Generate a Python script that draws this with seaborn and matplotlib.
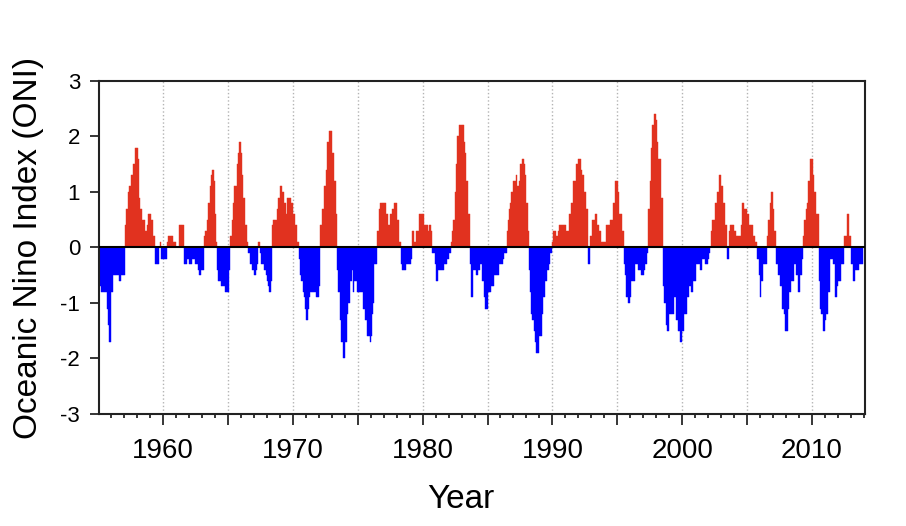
import numpy as np
import pandas as pd
import matplotlib
matplotlib.use("Agg")
import matplotlib.pyplot as plt
import seaborn as sns
from matplotlib.ticker import MultipleLocator, FuncFormatter

# Monthly Oceanic Nino Index (first value = Jan 1955)
start_year = 1955

oni_1950s = [
    -0.7, -0.7, -0.7, -0.8, -0.8, -0.8, -0.8, -0.8, -1.1, -1.4, -1.7, -1.7,  # 1955
    -0.8, -0.8, -0.5, -0.5, -0.5, -0.5, -0.5, -0.6, -0.6, -0.5, -0.5, -0.5,  # 1956
    -0.5, 0.4, 0.7, 0.7, 1.0, 1.1, 1.3, 1.3, 1.5, 1.5, 1.8, 1.8,  # 1957
    1.8, 1.6, 0.9, 0.7, 0.7, 0.5, 0.5, 0.3, 0.3, 0.4, 0.6, 0.6,  # 1958
    0.6, 0.5, 0.5, 0.2, 0.2, -0.3, -0.3, -0.3, 0.0, 0.1, -0.2, -0.2,  # 1959
]
oni_1960s = [
    -0.2, -0.2, -0.2, -0.2, 0.1, 0.2, 0.2, 0.2, 0.2, 0.1, 0.1, 0.1,  # 1960
    0.0, 0.0, 0.0, 0.4, 0.4, 0.4, 0.4, -0.3, -0.3, -0.3, -0.2, -0.2,  # 1961
    -0.3, -0.3, -0.3, -0.2, -0.2, -0.2, -0.3, -0.3, -0.4, -0.5, -0.5, -0.4,  # 1962
    -0.4, -0.4, 0.2, 0.3, 0.3, 0.5, 0.8, 1.1, 1.3, 1.4, 1.4, 1.2,  # 1963
    0.6, 0.1, -0.4, -0.6, -0.6, -0.6, -0.7, -0.7, -0.7, -0.8, -0.8, -0.8,  # 1964
    -0.8, -0.4, 0.2, 0.2, 0.5, 0.8, 1.1, 1.1, 1.5, 1.7, 1.9, 1.9,  # 1965
    1.7, 1.3, 0.9, 0.9, 0.4, 0.4, 0.1, -0.1, -0.3, -0.3, -0.4, -0.4,  # 1966
    -0.5, -0.5, -0.4, -0.3, 0.1, 0.1, -0.1, -0.3, -0.3, -0.4, -0.4, -0.5,  # 1967
    -0.6, -0.7, -0.8, -0.8, -0.6, 0.4, 0.5, 0.5, 0.5, 0.7, 0.9, 0.9,  # 1968
    1.1, 1.1, 1.0, 1.0, 0.8, 0.8, 0.6, 0.9, 0.9, 0.9, 0.8, 0.8,  # 1969
]
oni_1970s = [
    0.6, 0.6, 0.4, 0.4, 0.1, 0.1, -0.2, -0.5, -0.6, -0.8, -0.9, -1.1,  # 1970
    -1.3, -1.3, -1.1, -0.9, -0.8, -0.8, -0.8, -0.8, -0.8, -0.9, -0.9, -0.9,  # 1971
    -0.7, 0.4, 0.4, 0.7, 0.7, 1.1, 1.1, 1.4, 1.9, 2.1, 2.1, 2.1,  # 1972
    1.7, 1.7, 1.2, 1.2, 0.6, -0.4, -0.8, -0.8, -1.3, -1.7, -2.0, -2.0,  # 1973
    -1.7, -1.7, -1.2, -1.0, -1.0, -0.6, -0.6, -0.4, -0.8, -0.6, -0.6, -0.8,  # 1974
    -0.8, -0.8, -0.8, -0.8, -0.8, -1.1, -1.1, -1.3, -1.3, -1.6, -1.6, -1.7,  # 1975
    -1.6, -1.2, -1.0, -0.3, -0.3, -0.3, 0.3, 0.3, 0.7, 0.8, 0.8, 0.8,  # 1976
    0.8, 0.8, 0.6, 0.6, 0.4, 0.4, 0.6, 0.6, 0.7, 0.7, 0.8, 0.8,  # 1977
    0.5, 0.5, 0.1, 0.1, -0.3, -0.4, -0.4, -0.4, -0.4, -0.3, -0.3, -0.3,  # 1978
    -0.3, -0.2, 0.3, 0.3, 0.1, 0.1, 0.3, 0.3, 0.3, 0.6, 0.6, 0.6,  # 1979
]
oni_1980s = [
    0.6, 0.4, 0.4, 0.4, 0.4, 0.3, 0.4, 0.4, 0.3, -0.1, -0.1, -0.3,  # 1980
    -0.6, -0.6, -0.4, -0.4, -0.4, -0.4, -0.4, -0.4, -0.3, -0.3, -0.3, -0.2,  # 1981
    -0.1, -0.1, 0.1, 0.3, 0.5, 0.5, 1.0, 1.5, 2.0, 2.0, 2.2, 2.2,  # 1982
    2.2, 2.2, 1.9, 1.7, 1.2, 1.2, 0.6, 0.6, -0.3, -0.9, -0.9, -0.4,  # 1983
    -0.4, -0.5, -0.5, -0.4, -0.4, -0.3, -0.3, -0.6, -0.6, -0.9, -1.1, -1.1,  # 1984
    -0.8, -0.8, -0.8, -0.7, -0.7, -0.7, -0.5, -0.5, -0.5, -0.5, -0.5, -0.3,  # 1985
    -0.3, -0.3, -0.2, -0.1, -0.1, -0.1, 0.3, 0.5, 0.7, 0.8, 1.0, 1.0,  # 1986
    1.2, 1.2, 1.3, 1.1, 1.1, 1.2, 1.5, 1.5, 1.6, 1.6, 1.5, 1.3,  # 1987
    0.8, 0.3, -0.4, -0.8, -1.2, -1.3, -1.3, -1.5, -1.7, -1.9, -1.9, -1.9,  # 1988
    -1.6, -1.6, -1.2, -0.9, -0.9, -0.6, -0.6, -0.4, -0.4, -0.3, -0.1, -0.1,  # 1989
]
oni_1990s = [
    0.1, 0.3, 0.3, 0.2, 0.2, 0.3, 0.4, 0.4, 0.4, 0.4, 0.4, 0.4,  # 1990
    0.4, 0.3, 0.3, 0.6, 0.6, 0.8, 0.8, 1.2, 1.2, 1.2, 1.5, 1.5,  # 1991
    1.6, 1.6, 1.4, 1.3, 1.3, 1.0, 1.0, 0.7, 0.7, -0.3, -0.3, 0.2,  # 1992
    0.2, 0.5, 0.5, 0.6, 0.6, 0.4, 0.4, 0.3, 0.3, 0.1, 0.1, 0.1,  # 1993
    0.1, 0.1, 0.4, 0.4, 0.4, 0.5, 0.5, 0.5, 0.8, 0.8, 1.2, 1.2,  # 1994
    1.2, 1.0, 0.6, 0.6, 0.3, 0.3, -0.3, -0.5, -0.9, -0.9, -1.0, -1.0,  # 1995
    -0.9, -0.6, -0.6, -0.6, -0.3, -0.3, -0.3, -0.4, -0.4, -0.4, -0.5, -0.5,  # 1996
    -0.5, -0.4, -0.3, -0.1, 0.7, 0.7, 1.2, 1.8, 2.2, 2.2, 2.4, 2.4,  # 1997
    2.3, 1.9, 1.6, 1.6, 0.9, 0.9, -0.7, -1.0, -1.0, -1.4, -1.5, -1.5,  # 1998
    -1.2, -1.2, -1.2, -1.2, -0.9, -0.9, -1.3, -1.3, -1.5, -1.5, -1.7, -1.7,  # 1999
]
oni_2000s = [
    -1.5, -1.5, -1.2, -1.2, -0.9, -0.9, -0.7, -0.7, -0.8, -0.8, -0.6, -0.6,  # 2000
    -0.6, -0.3, -0.3, -0.3, -0.4, -0.4, -0.2, -0.2, -0.2, -0.3, -0.3, -0.3,  # 2001
    -0.2, -0.1, 0.0, 0.3, 0.5, 0.5, 0.8, 0.8, 1.0, 1.0, 1.3, 1.3,  # 2002
    1.1, 1.1, 0.8, 0.8, 0.4, -0.2, -0.2, 0.3, 0.4, 0.4, 0.4, 0.4,  # 2003
    0.3, 0.3, 0.2, 0.2, 0.2, 0.2, 0.4, 0.8, 0.8, 0.7, 0.7, 0.7,  # 2004
    0.6, 0.6, 0.4, 0.4, 0.4, 0.2, 0.2, 0.1, 0.1, -0.2, -0.2, -0.5,  # 2005
    -0.9, -0.6, -0.6, -0.3, -0.3, -0.3, 0.2, 0.5, 0.5, 0.8, 1.0, 1.0,  # 2006
    0.7, 0.3, 0.3, -0.3, -0.3, -0.5, -0.7, -0.7, -1.1, -1.1, -1.2, -1.5,  # 2007
    -1.5, -1.5, -1.1, -0.8, -0.8, -0.6, -0.6, -0.3, -0.3, -0.5, -0.5, -0.8,  # 2008
    -0.8, -0.5, -0.5, -0.2, 0.2, 0.5, 0.7, 0.8, 1.2, 1.2, 1.6, 1.6,  # 2009
]
oni_2010s = [
    1.6, 1.3, 1.0, 1.0, 0.6, 0.6, -0.6, -1.1, -1.2, -1.2, -1.5, -1.5,  # 2010
    -1.3, -1.2, -1.2, -0.8, -0.8, -0.2, -0.2, -0.3, -0.3, -0.9, -0.9, -0.7,  # 2011
    -0.6, -0.6, -0.6, -0.3, -0.3, -0.3, 0.2, 0.2, 0.6, 0.6, 0.2, 0.2,  # 2012
    -0.3, -0.3, -0.6, -0.6, -0.4, -0.4, -0.4, -0.3, -0.3, -0.3, -0.3,  # 2013
]

warm_color = "#E1321F"
cold_color = "#0000FF"

oni = oni_1950s + oni_1960s + oni_1970s + oni_1980s + oni_1990s + oni_2000s + oni_2010s
df = pd.DataFrame({"oni": oni})
df["time"] = start_year + (np.arange(len(df)) + 0.5) / 12
df["phase"] = np.where(df["oni"] >= 0, "warm", "cold")

sns.set_style("ticks")
plt.rcParams["font.family"] = ["Liberation Sans", "DejaVu Sans"]
plt.rcParams["axes.unicode_minus"] = False
for key in ["text.color", "axes.labelcolor", "xtick.color", "ytick.color"]:
    plt.rcParams[key] = "black"

fig, ax = plt.subplots(figsize=(9.06, 5.26), dpi=100)
fig.subplots_adjust(left=0.109, right=0.955, top=0.846, bottom=0.213)

sns.barplot(data=df, x="time", y="oni", hue="phase",
            palette={"warm": warm_color, "cold": cold_color},
            native_scale=True, dodge=False, width=1.0, saturation=1,
            errorbar=None, legend=False, linewidth=0, ax=ax)

# close the hairline seams between neighbouring bars
for p in ax.patches:
    p.set_edgecolor(p.get_facecolor())
    p.set_linewidth(0.3)

ax.axhline(0, color="black", lw=1.5, zorder=3)

ax.set_xlim(1955.05, 2014.1)
ax.set_ylim(-3, 3)
ax.set_yticks(range(-3, 4))
ax.xaxis.set_major_locator(MultipleLocator(5))
ax.xaxis.set_minor_locator(MultipleLocator(1))
ax.xaxis.set_major_formatter(FuncFormatter(
    lambda v, p: f"{int(round(v))}" if int(round(v)) % 10 == 0 else ""))

ax.set_axisbelow(True)
ax.grid(axis="x", which="major", ls=":", color="#b4b4b4", lw=1.0)

ax.tick_params(axis="x", which="major", length=8, width=1.1, labelsize=20, pad=9)
ax.tick_params(axis="x", which="minor", length=3, width=1.1)
ax.tick_params(axis="y", which="major", length=6.5, width=1.1, labelsize=16, pad=7)

for s in ax.spines.values():
    s.set_linewidth(1.5)
    s.set_color("#222222")

ax.set_xlabel("Year", fontsize=24)
ax.set_ylabel("Oceanic Nino Index (ONI)", fontsize=24)
ax.xaxis.set_label_coords(0.473, -0.21)
ax.yaxis.set_label_coords(-0.072, 0.5)

fig.savefig("out.png", dpi=100)
